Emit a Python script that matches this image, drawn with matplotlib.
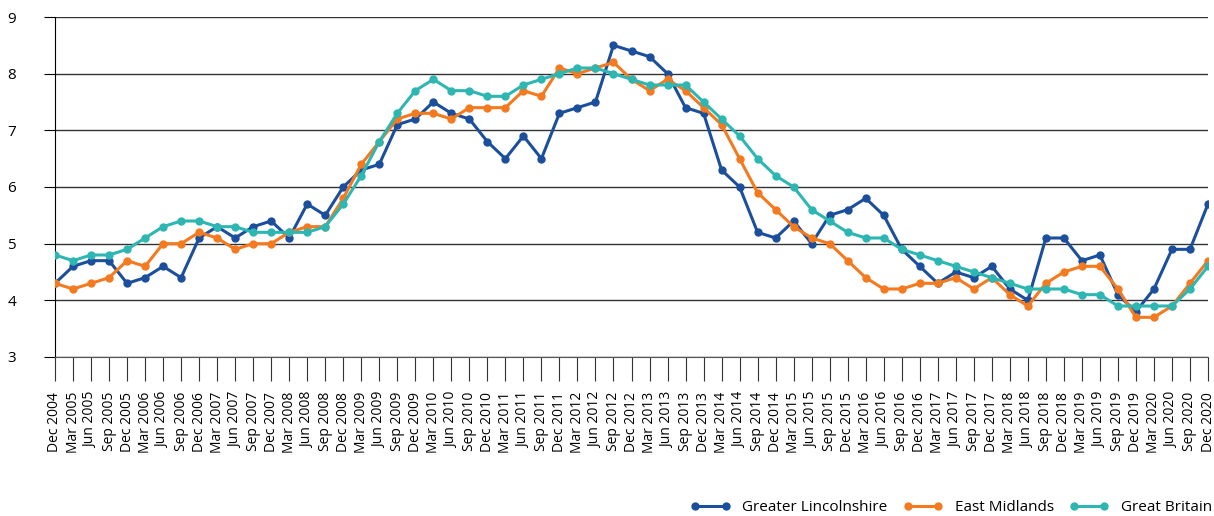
import numpy as np
import matplotlib
matplotlib.use("Agg")
from matplotlib import pyplot as plt

plt.rcParams['font.family'] = ['Open Sans', 'DejaVu Sans']

# quarters Dec 2004 .. Dec 2020
quarters = ["Dec 2004"] + [m + " " + str(y) for y in range(2005, 2021)
                           for m in ["Mar", "Jun", "Sep", "Dec"]]

lincs = [4.3, 4.6, 4.7, 4.7, 4.3, 4.4, 4.6, 4.4, 5.1, 5.3, 5.1, 5.3, 5.4, 5.1, 5.7, 5.5,
         6.0, 6.3, 6.4, 7.1, 7.2, 7.5, 7.3, 7.2, 6.8, 6.5, 6.9, 6.5, 7.3, 7.4, 7.5, 8.5,
         8.4, 8.3, 8.0, 7.4, 7.3, 6.3, 6.0, 5.2, 5.1, 5.4, 5.0, 5.5, 5.6, 5.8, 5.5, 4.9,
         4.6, 4.3, 4.5, 4.4, 4.6, 4.2, 4.0, 5.1, 5.1, 4.7, 4.8, 4.1, 3.8, 4.2, 4.9, 4.9,
         5.7]
east_mid = [4.3, 4.2, 4.3, 4.4, 4.7, 4.6, 5.0, 5.0, 5.2, 5.1, 4.9, 5.0, 5.0, 5.2, 5.3, 5.3,
            5.8, 6.4, 6.8, 7.2, 7.3, 7.3, 7.2, 7.4, 7.4, 7.4, 7.7, 7.6, 8.1, 8.0, 8.1, 8.2,
            7.9, 7.7, 7.9, 7.7, 7.4, 7.1, 6.5, 5.9, 5.6, 5.3, 5.1, 5.0, 4.7, 4.4, 4.2, 4.2,
            4.3, 4.3, 4.4, 4.2, 4.4, 4.1, 3.9, 4.3, 4.5, 4.6, 4.6, 4.2, 3.7, 3.7, 3.9, 4.3,
            4.7]
gb = [4.8, 4.7, 4.8, 4.8, 4.9, 5.1, 5.3, 5.4, 5.4, 5.3, 5.3, 5.2, 5.2, 5.2, 5.2, 5.3,
      5.7, 6.2, 6.8, 7.3, 7.7, 7.9, 7.7, 7.7, 7.6, 7.6, 7.8, 7.9, 8.0, 8.1, 8.1, 8.0,
      7.9, 7.8, 7.8, 7.8, 7.5, 7.2, 6.9, 6.5, 6.2, 6.0, 5.6, 5.4, 5.2, 5.1, 5.1, 4.9,
      4.8, 4.7, 4.6, 4.5, 4.4, 4.3, 4.2, 4.2, 4.2, 4.1, 4.1, 3.9, 3.9, 3.9, 3.9, 4.2,
      4.6]

names = ["Greater Lincolnshire", "East Midlands", "Great Britain"]
colors = ["#1B4F9C", "#F47A20", "#2DB6B2"]

fig = plt.figure(figsize=(12.14, 5.16), dpi=100)
ax = fig.add_axes([55/1214, 1 - 357/516, 1153/1214, 340/516])

x = np.arange(len(quarters))
for s, n, c in zip([lincs, east_mid, gb], names, colors):
    ax.plot(x, s, color=c, lw=2.2, marker='o', ms=5, label=n, zorder=3)

ax.set_ylim(3, 9)
ax.set_xlim(0, len(quarters) - 1)
ax.set_yticks(range(3, 10))
ax.yaxis.grid(True, color='#333333', lw=1)
ax.set_axisbelow(True)
for sp in ['top', 'right']:
    ax.spines[sp].set_visible(False)
ax.spines['left'].set_color('black')
ax.spines['bottom'].set_color('#555555')
ax.tick_params(axis='y', length=8, labelsize=11, pad=20, color='black')
ax.tick_params(axis='x', length=17, width=0.8, color='#333333', labelsize=10, pad=8)
ax.set_xticks(x)
ax.set_xticklabels(quarters, rotation=90)

fig.legend(loc='lower right', bbox_to_anchor=(1.01, -0.025), ncol=3, frameon=False,
           fontsize=11, handlelength=2.6, columnspacing=1.0, handletextpad=0.8,
           numpoints=2)

fig.savefig("out.png", dpi=100)
